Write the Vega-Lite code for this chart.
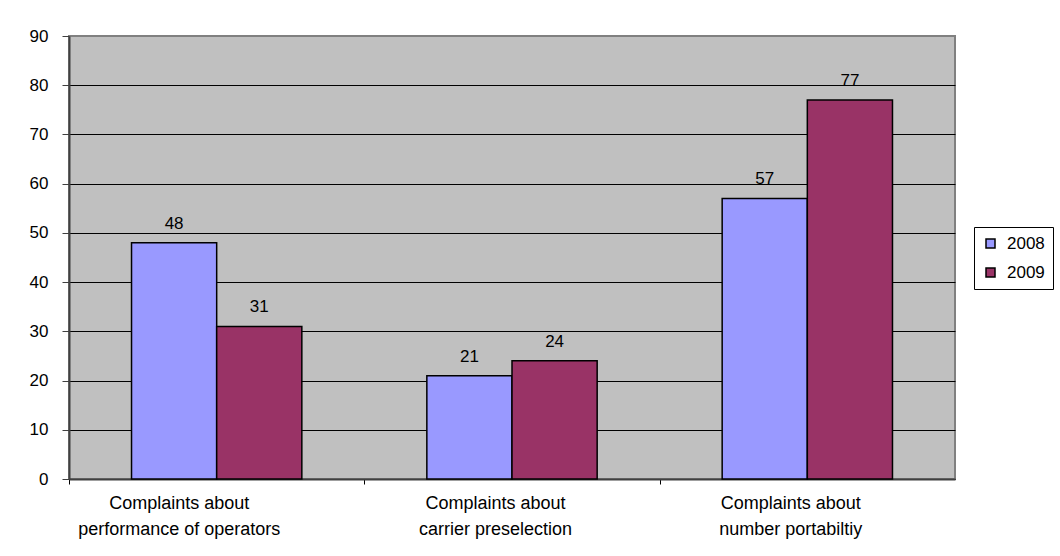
{
  "$schema": "https://vega.github.io/schema/vega-lite/v6.json",
  "width": 886,
  "height": 443,
  "autosize": {"type": "none"},
  "padding": {"left": 69, "top": 36, "right": 105, "bottom": 77},
  "background": "white",
  "config": {
    "font": "Liberation Sans",
    "view": {"fill": "#C0C0C0", "stroke": "#808080", "strokeWidth": 2}
  },
  "data": {
    "values": [
      {"category": "Complaints about|performance of operators", "year": "2008", "value": 48},
      {"category": "Complaints about|performance of operators", "year": "2009", "value": 31},
      {"category": "Complaints about|carrier preselection", "year": "2008", "value": 21},
      {"category": "Complaints about|carrier preselection", "year": "2009", "value": 24},
      {"category": "Complaints about|number portabiltiy", "year": "2008", "value": 57},
      {"category": "Complaints about|number portabiltiy", "year": "2009", "value": 77}
    ]
  },
  "encoding": {
    "x": {
      "field": "category",
      "type": "nominal",
      "sort": null,
      "scale": {"paddingInner": 0.4233, "paddingOuter": 0.2117},
      "axis": {
        "title": null,
        "orient": "bottom",
        "labelAngle": 0,
        "labelExpr": "split(datum.label, '|')",
        "labelLineHeight": 26,
        "labelBaseline": "top",
        "labelAlign": "center",
        "labelPadding": 10,
        "labelFontSize": 18,
        "labelColor": "black",
        "labelLimit": 400,
        "tickOffset": -147.67,
        "labelOffset": {
          "condition": {"test": "indexof(datum.value, 'performance') >= 0", "value": 109.67},
          "value": 130.67
        },
        "tickSize": 5,
        "tickColor": "black",
        "domainColor": "#404040",
        "domainWidth": 2,
        "grid": false
      }
    },
    "xOffset": {
      "field": "year",
      "type": "nominal",
      "scale": {"paddingInner": 0, "paddingOuter": 0}
    },
    "y": {
      "field": "value",
      "type": "quantitative",
      "scale": {"domain": [0, 90], "nice": false},
      "axis": {
        "title": null,
        "values": [0, 10, 20, 30, 40, 50, 60, 70, 80, 90],
        "grid": true,
        "gridColor": {"condition": {"test": "datum.value == 90", "value": "#808080"}, "value": "black"},
        "gridWidth": 1,
        "domainColor": "#404040",
        "domainWidth": 2,
        "tickColor": "#404040",
        "tickSize": 7,
        "labelPadding": 14,
        "labelFontSize": 17,
        "labelColor": "black"
      }
    }
  },
  "layer": [
    {
      "mark": {"type": "bar", "stroke": "black", "strokeWidth": 1.5},
      "encoding": {
        "color": {
          "field": "year",
          "type": "nominal",
          "scale": {"domain": ["2008", "2009"], "range": ["#9999FF", "#993366"]},
          "legend": {
            "title": null,
            "orient": "none",
            "legendX": 905,
            "legendY": 191,
            "fillColor": "white",
            "strokeColor": "black",
            "padding": 8,
            "symbolType": "square",
            "symbolSize": 81,
            "symbolStrokeColor": "black",
            "symbolStrokeWidth": 1.5,
            "labelFontSize": 17,
            "labelColor": "black",
            "labelOffset": 8,
            "rowPadding": 11,
            "labelExpr": "datum.label + '\u00a0\u00a0\u00a0\u00a0\u00a0\u00a0\u00a0\u00a0\u00a0\u00a0'"
          }
        }
      }
    },
    {
      "mark": {"type": "text", "dy": -14, "baseline": "alphabetic", "fontSize": 17, "color": "black"},
      "encoding": {"text": {"field": "value", "type": "quantitative"}}
    }
  ]
}
